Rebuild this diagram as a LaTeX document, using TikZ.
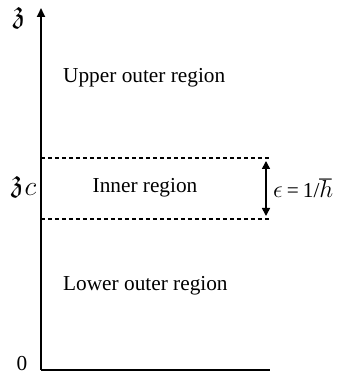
\RequirePackage{fix-cm}
\documentclass[tikz,border=0pt]{standalone}
\usepackage{amssymb}
\usepackage{graphicx}
\usepackage{fontspec}
\setmainfont{Liberation Serif}
\usetikzlibrary{arrows.meta}
\newcommand{\bigz}{\scalebox{1.5}{$\mathfrak{z}$}}
\begin{document}
\begin{tikzpicture}[x=1pt,y=1pt,
  lbl/.style={inner sep=0pt,font=\fontsize{21.3}{24}\selectfont},
  axisline/.style={line width=1.8pt},
  dashline/.style={line width=1.3pt,dash pattern=on 4pt off 3pt},
  tipstyle/.style={-{Triangle[length=9pt,width=8pt]}}]
\useasboundingbox (0,0) rectangle (338,376);
\coordinate (o) at (41,6);
\coordinate (ztop) at (41,368);
\coordinate (xend) at (270,6);
\coordinate (d1a) at (41,218);
\coordinate (d1b) at (269,218);
\coordinate (d2a) at (41,157);
\coordinate (d2b) at (269,157);
\coordinate (ea) at (266,215);
\coordinate (eb) at (266,160);
\draw[axisline,tipstyle] (o) -- (ztop);
\draw[axisline] (o) -- (xend);
\draw[dashline] (d1a) -- (d1b);
\draw[dashline] (d2a) -- (d2b);
\draw[line width=1.6pt,{Triangle[length=8pt,width=8pt]}-{Triangle[length=8pt,width=8pt]}] (ea) -- (eb);
\node[lbl,anchor=north] (zl) at (19,369) {\bigz};
\node[lbl,anchor=west] (zcl) at (11,189) {\bigz\kern1pt\raisebox{-4pt}{\scalebox{1.3}{$c$}}};
\node[lbl] (zero) at (22,12) {0};
\node[lbl,anchor=west] (up) at (63,298) {Upper outer region};
\node[lbl] (inner) at (145,188) {Inner region};
\node[lbl,anchor=west] (low) at (63,90) {Lower outer region};
\node[lbl,anchor=west] (eps) at (273,188) {\scalebox{1.15}{$\epsilon$}\kern4pt=\kern4pt1/\scalebox{1.15}{$\hbar$}};
\end{tikzpicture}
\end{document}
